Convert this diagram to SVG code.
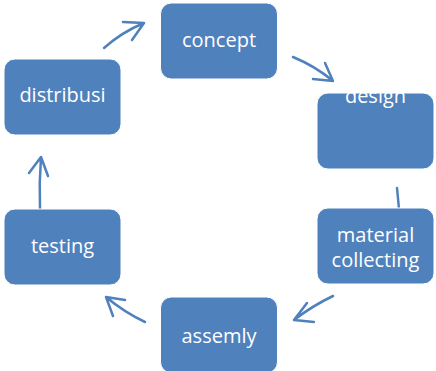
<svg xmlns="http://www.w3.org/2000/svg" width="436" height="371" viewBox="0 0 436 371">
<style>
.box{fill:#4F81BD;stroke:#ffffff;stroke-width:1}
.lbl{font-family:"Open Sans","Noto Sans",sans-serif;font-size:20px;fill:#ffffff;text-anchor:middle}
.arr{fill:none;stroke:#4F81BD;stroke-width:2.5;stroke-linecap:round;stroke-linejoin:round}
</style>
<rect width="436" height="371" fill="#ffffff"/>
<g id="connectors">
<path class="arr" d="M104,48 Q122,32 144,23 M123,22 L144,23 L132,40"/>
<path class="arr" d="M293,57 Q315,66 333,81 M313,79 L333,81 L325,63"/>
<path class="arr" d="M397,188 L399,209"/>
<path class="arr" d="M333,296 Q312,306 294,320 M307,303 L294,320 L314,322"/>
<path class="arr" d="M145,322 Q124,312 106,297 M125,300 L106,297 L113,316"/>
<path class="arr" d="M40,209 Q39,183 41,157 M29,173 L41,157 L48,176"/>
</g>
<g id="concept"><rect class="box" x="160.5" y="3" width="117" height="76" rx="11"/><text class="lbl" x="219" y="47">concept</text></g>
<g id="design"><rect class="box" x="317" y="93" width="117" height="76" rx="11"/><text class="lbl" x="375.5" y="103" clip-path="url(#cd)">design</text></g>
<g id="material"><rect class="box" x="317" y="208" width="117" height="76" rx="11"/><text class="lbl" x="375.5" y="242">material</text><text class="lbl" x="375.5" y="267">collecting</text></g>
<g id="assemly"><rect class="box" x="160.5" y="297" width="117" height="76" rx="11"/><text class="lbl" x="219" y="343">assemly</text></g>
<g id="testing"><rect class="box" x="4" y="209" width="117" height="76" rx="11"/><text class="lbl" x="62.5" y="253">testing</text></g>
<g id="distribusi"><rect class="box" x="4" y="59" width="117" height="76" rx="11"/><text class="lbl" x="62.5" y="102">distribusi</text></g>
<defs><clipPath id="cd"><rect x="317" y="93" width="117" height="76"/></clipPath></defs>
</svg>
